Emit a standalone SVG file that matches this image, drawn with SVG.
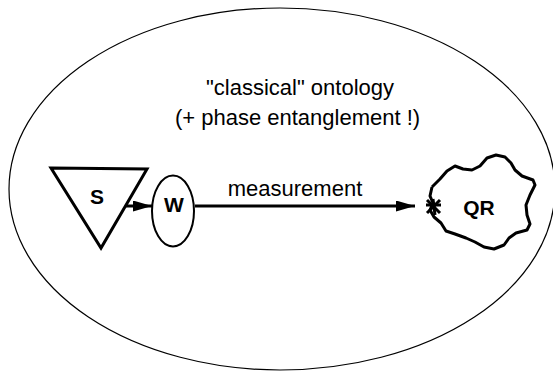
<svg xmlns="http://www.w3.org/2000/svg" width="553" height="371" viewBox="0 0 553 371">
<defs>
<style>
.t{font-family:"Liberation Sans",Arial,sans-serif;font-size:22px;fill:#000;text-anchor:middle}
.b{font-family:"Liberation Sans",Arial,sans-serif;font-size:21px;font-weight:bold;fill:#000;text-anchor:middle}
.thick{fill:none;stroke:#000;stroke-width:3}
.conn{fill:none;stroke:#000;stroke-width:3}
</style>
<marker id="ah" markerUnits="userSpaceOnUse" markerWidth="20" markerHeight="12" refX="19" refY="5.5" orient="auto">
<polygon points="0,0 19,5.5 0,11" fill="#000"/>
</marker>
</defs>
<rect width="553" height="371" fill="#fff"/>
<g id="ontology">
<path d="M 280 8 A 271 181 0 0 0 280 370 A 275 181 0 0 0 280 8 Z" fill="none" stroke="#000" stroke-width="1.2"/>
<text class="t" x="300" y="95">"classical" ontology</text>
<text class="t" x="297.5" y="125">(+ phase entanglement !)</text>
</g>
<g id="S">
<polygon class="thick" points="51,168 147,169 101,248"/>
<text class="b" x="97" y="204">S</text>
</g>
<g id="W">
<ellipse cx="173" cy="211" rx="21" ry="35.5" fill="#fff" stroke="#000" stroke-width="2"/>
<text class="b" x="174" y="212">W</text>
</g>
<g id="QR">
<polyline class="thick" stroke-linejoin="round" points="432,187 440,179 447,171 455,166 463,169 472,170 480,166 487,158 496,155 505,157 511,163 515,170 522,176 533,180 535,185 530,195 526,205 527,215 530,224 527,230 516,233 509,238 504,245 494,249 484,247 475,242 466,238 455,234 446,231 441,223 434,217 430,210 433,203 430,196 432,187"/>
<g stroke="#000" stroke-width="3" stroke-linecap="butt">
<line x1="433" y1="199" x2="435" y2="215"/>
<line x1="426" y1="205" x2="441" y2="205"/>
<line x1="427" y1="213" x2="440" y2="200"/>
<line x1="427" y1="200" x2="440" y2="213"/>
</g>
<text class="b" x="479" y="215">QR</text>
</g>
<g id="connectors">
<line class="conn" x1="126" y1="206" x2="152" y2="206" marker-end="url(#ah)"/>
<line class="conn" x1="195" y1="206" x2="415" y2="206" marker-end="url(#ah)"/>
<text class="t" x="295" y="196">measurement</text>
</g>
</svg>
